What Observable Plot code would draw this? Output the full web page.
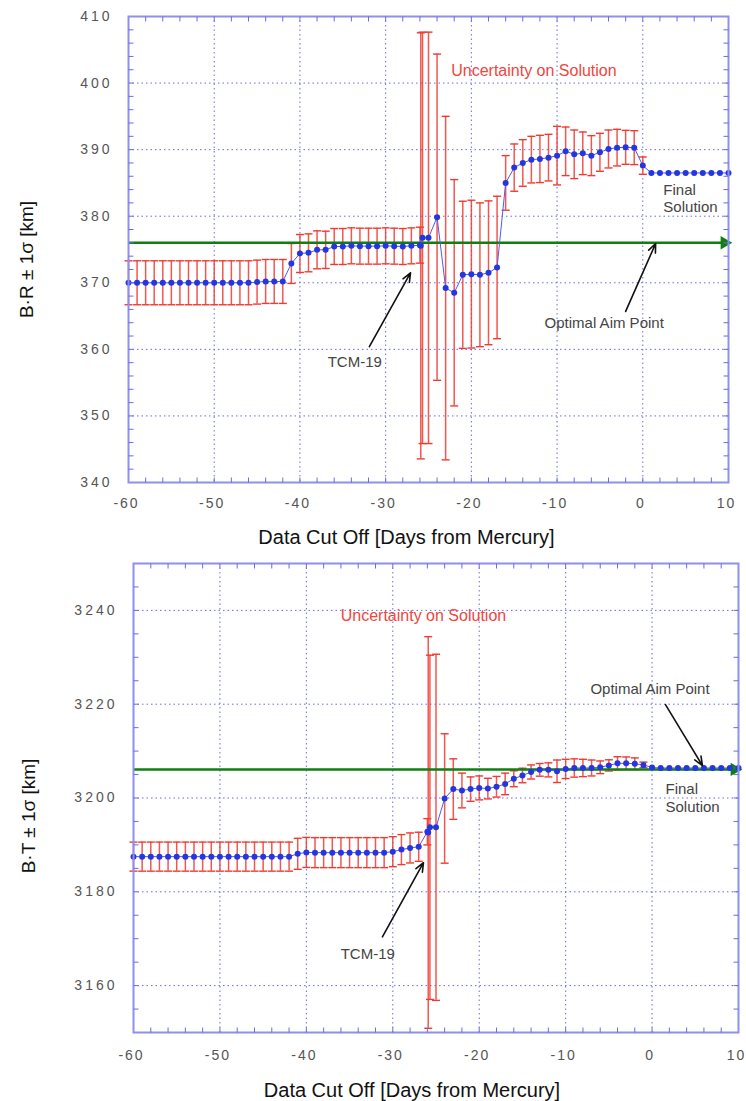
<!DOCTYPE html>
<html>
<head>
<meta charset="utf-8">
<script src="https://cdn.jsdelivr.net/npm/d3@7"></script>
<script src="https://cdn.jsdelivr.net/npm/@observablehq/plot@0.6"></script>
<style>
  body { margin: 0; background: #ffffff; }
  #figure { position: relative; width: 746px; height: 1101px; overflow: hidden; }
  .panel { position: absolute; left: 0; }
  .panel svg { overflow: visible; }
  g[aria-label="x-axis tick label"] text { letter-spacing: 2px; }
  g[aria-label="y-axis tick label"] text { letter-spacing: 3px; }
</style>
</head>
<body>
<div id="figure"></div>
<script>
// Data cut-off epochs (days relative to Mercury encounter); TCM-19 splits day -26 into several solutions
const days = [
  -60, -59, -58, -57, -56, -55, -54, -53, -52, -51, -50, -49, -48, -47, -46, -45, -44, -43, -42,
  -41, -40, -39, -38, -37, -36, -35, -34, -33, -32, -31, -30, -29, -28, -27,
  -26, -25.9, -25.7, -25,
  -24, -23, -22, -21, -20, -19, -18, -17, -16, -15, -14, -13, -12, -11, -10,
  -9, -8, -7, -6, -5, -4, -3, -2, -1, 0,
  1, 2, 3, 4, 5, 6, 7, 8, 9, 10
];

// B·R solution and 1-sigma uncertainty (km)
const brValues = [
  370.0, 370.0, 370.0, 370.0, 370.0, 370.0, 370.0, 370.0, 370.0, 370.0, 370.0, 370.0, 370.0, 370.0, 370.0, 370.1, 370.2, 370.2, 370.2,
  372.9, 374.4, 374.5, 374.95, 374.95, 375.45, 375.45, 375.55, 375.5, 375.5, 375.5, 375.55, 375.5, 375.45, 375.55,
  375.65, 375.55, 376.75, 376.75,
  379.85, 369.2, 368.5, 371.2, 371.3, 371.2, 371.5, 372.3, 385.0, 387.3, 388.0, 388.5, 388.6, 388.8, 389.1,
  389.75, 389.3, 389.45, 389.1, 389.6, 390.1, 390.3, 390.35, 390.3, 387.6,
  386.5, 386.5, 386.5, 386.5, 386.5, 386.5, 386.5, 386.5, 386.5, 386.5
];
const brSigma = [
  3.3, 3.3, 3.3, 3.3, 3.3, 3.3, 3.3, 3.3, 3.3, 3.3, 3.3, 3.3, 3.3, 3.3, 3.3, 3.3, 3.3, 3.3, 3.3,
  3.0, 2.85, 2.85, 2.85, 2.8, 2.7, 2.7, 2.7, 2.7, 2.7, 2.7, 2.7, 2.7, 2.7, 2.7,
  2.7, 32.0, 30.9, 30.9,
  24.5, 25.8, 17.0, 11.05, 11.1, 10.8, 10.8, 10.7, 4.1, 3.55, 3.5, 3.5, 3.55, 3.5, 4.4,
  3.65, 3.65, 3.2, 3.0, 2.85, 2.85, 2.75, 2.55, 2.55, 1.3,
  0, 0, 0, 0, 0, 0, 0, 0, 0, 0
];

// B·T solution and 1-sigma uncertainty (km)
const btValues = [
  3187.5, 3187.5, 3187.5, 3187.5, 3187.5, 3187.5, 3187.5, 3187.5, 3187.5, 3187.5, 3187.5, 3187.5, 3187.5, 3187.5, 3187.5, 3187.5, 3187.5, 3187.5, 3187.5,
  3188.1, 3188.4, 3188.35, 3188.35, 3188.35, 3188.35, 3188.35, 3188.35, 3188.35, 3188.35, 3188.35, 3188.55, 3189.0, 3189.35, 3189.6,
  3192.8, 3192.65, 3193.75, 3193.75,
  3199.9, 3201.9, 3201.6, 3201.9, 3202.15, 3202.0, 3202.4, 3203.0, 3204.1, 3204.8, 3205.55, 3206.0, 3206.0, 3205.7, 3206.2,
  3206.4, 3206.4, 3206.4, 3206.55, 3206.95, 3207.4, 3207.4, 3207.3, 3207.05, 3206.5,
  3206.4, 3206.4, 3206.4, 3206.4, 3206.4, 3206.4, 3206.4, 3206.4, 3206.4, 3206.4
];
const btSigma = [
  3.1, 3.1, 3.1, 3.1, 3.1, 3.1, 3.1, 3.1, 3.1, 3.1, 3.1, 3.1, 3.1, 3.1, 3.1, 3.1, 3.1, 3.1, 3.1,
  3.3, 3.2, 3.2, 3.2, 3.2, 3.2, 3.2, 3.2, 3.2, 3.2, 3.2, 3.2, 3.2, 3.2, 3.1,
  2.8, 41.75, 36.7, 36.9,
  13.8, 6.45, 3.7, 2.6, 2.55, 2.2, 2.2, 2.3, 1.7, 1.55, 1.5, 1.35, 1.5, 2.4, 2.05,
  1.95, 1.85, 1.7, 1.35, 1.2, 1.4, 1.35, 1.25, 0.6, 0,
  0, 0, 0, 0, 0, 0, 0, 0, 0, 0
];

// Optimal aim points (km)
const brAim = 376.0;
const btAim = 3206.1;

// Axis ticks
const xDomain = [-60, 10];
const xTicks = [-60, -50, -40, -30, -20, -10, 0, 10];
const xMinor = [-58, -56, -54, -52, -48, -46, -44, -42, -38, -36, -34, -32, -28, -26, -24, -22, -18, -16, -14, -12, -8, -6, -4, -2, 2, 4, 6, 8];
const brDomain = [340, 410];
const brTicks = [340, 350, 360, 370, 380, 390, 400, 410];
const brMinor = [342, 344, 346, 348, 352, 354, 356, 358, 362, 364, 366, 368, 372, 374, 376, 378, 382, 384, 386, 388, 392, 394, 396, 398, 402, 404, 406, 408];
const btDomain = [3150, 3250];
const btTicks = [3160, 3180, 3200, 3220, 3240];
const btMinor = [3155, 3165, 3170, 3175, 3185, 3190, 3195, 3205, 3210, 3215, 3225, 3230, 3235, 3245];

// Annotations (data coordinates)
const brNotes = [
  {day: -12.7, value: 401.9, text: "Uncertainty on Solution", kind: "red"},
  {day: -4.5, value: 363.9, text: "Optimal Aim Point", kind: "gray"},
  {day: -33.6, value: 358.0, text: "TCM-19", kind: "gray"}
];
const brFinal = [{day: 2.4, value: 382.75, text: "Final\nSolution"}];
const brArrows = [
  {x1: -31.9, y1: 360.4, x2: -27.1, y2: 371.5},
  {x1: -2.0, y1: 365.7, x2: 1.5, y2: 375.9}
];
const btNotes = [
  {day: -26.45, value: 3238.9, text: "Uncertainty on Solution", kind: "red"},
  {day: -0.24, value: 3223.3, text: "Optimal Aim Point", kind: "gray"},
  {day: -32.9, value: 3166.8, text: "TCM-19", kind: "gray"}
];
const btFinal = [{day: 1.55, value: 3200.1, text: "Final\nSolution"}];
const btArrows = [
  {x1: -31.2, y1: 3170.4, x2: -26.45, y2: 3186.2},
  {x1: 1.55, y1: 3219.9, x2: 5.83, y2: 3206.9}
];

// Colours
const RED = "#f03a30";
const BLUE = "#2436e0";
const LINE_BLUE = "#4d5cf0";
const GREEN = "#0f7f12";
const FRAME = "#8f8ff0";
const GRID = "#5a5ae8";
const TICK = "#6a6ae8";
const FONT = "'Liberation Sans', Arial, Helvetica, sans-serif";

// Custom symbols: horizontal error-bar cap and inward frame ticks
const capSymbol = {draw(ctx, size) { const l = Math.sqrt(size / Math.PI); ctx.moveTo(-l, 0); ctx.lineTo(l, 0); }};
const tickUp = {draw(ctx, size) { const l = Math.sqrt(size / Math.PI); ctx.moveTo(0, 0); ctx.lineTo(0, -l); }};
const tickDown = {draw(ctx, size) { const l = Math.sqrt(size / Math.PI); ctx.moveTo(0, 0); ctx.lineTo(0, l); }};
const tickRight = {draw(ctx, size) { const l = Math.sqrt(size / Math.PI); ctx.moveTo(0, 0); ctx.lineTo(l, 0); }};
const tickLeft = {draw(ctx, size) { const l = Math.sqrt(size / Math.PI); ctx.moveTo(0, 0); ctx.lineTo(-l, 0); }};

function panel(cfg) {
  const rows = days.map((d, i) => ({day: d, value: cfg.values[i], sigma: cfg.sigma[i]}));
  const bars = rows.filter(d => d.sigma > 0);
  const innerX = xTicks.slice(1, -1);
  const innerY = cfg.yTicks.filter(v => v > cfg.yDomain[0] && v < cfg.yDomain[1]);
  return Plot.plot({
    width: 746,
    height: cfg.height,
    marginLeft: cfg.marginLeft,
    marginRight: cfg.marginRight,
    marginTop: cfg.marginTop,
    marginBottom: cfg.marginBottom,
    style: {fontFamily: FONT, background: "transparent", overflow: "visible"},
    x: {domain: xDomain},
    y: {domain: cfg.yDomain},
    marks: [
      // dotted grid at the major ticks
      Plot.gridX(innerX, {stroke: GRID, strokeOpacity: 0.9, strokeWidth: 1, strokeDasharray: "1.5,3"}),
      Plot.gridY(innerY, {stroke: GRID, strokeOpacity: 0.9, strokeWidth: 1, strokeDasharray: "1.5,3"}),
      // 1-sigma error bars with caps
      Plot.ruleX(bars, {x: "day", y1: d => d.value - d.sigma, y2: d => d.value + d.sigma, stroke: RED, strokeWidth: 1.5, strokeOpacity: 0.85}),
      Plot.dot(bars, {x: "day", y: d => d.value + d.sigma, symbol: capSymbol, r: 4, stroke: RED, fill: "none", strokeWidth: 1.4}),
      Plot.dot(bars, {x: "day", y: d => d.value - d.sigma, symbol: capSymbol, r: 4, stroke: RED, fill: "none", strokeWidth: 1.4}),
      // optimal aim point line with arrowhead
      Plot.ruleY([cfg.aim], {y: d => d, stroke: GREEN, strokeWidth: 2.5}),
      Plot.dot([cfg.aim], {x: () => xDomain[1], y: d => d, symbol: "triangle", rotate: 90, r: 5, fill: GREEN, dx: -4}),
      // orbit determination solutions
      Plot.line(rows, {x: "day", y: "value", stroke: LINE_BLUE, strokeWidth: 1}),
      Plot.dot(rows, {x: "day", y: "value", r: 3, fill: BLUE}),
      // annotations
      Plot.text(cfg.notes, {x: "day", y: "value", text: "text", fontSize: d => d.kind === "red" ? 16 : 15,
        fill: d => d.kind === "red" ? "#f2453d" : "#444", textAnchor: "middle", lineAnchor: "middle"}),
      Plot.text(cfg.final, {x: "day", y: "value", text: "text", fontSize: 15, fill: "#444", textAnchor: "start", lineAnchor: "middle", lineHeight: 1.15}),
      Plot.arrow(cfg.arrows, {x1: "x1", y1: "y1", x2: "x2", y2: "y2", stroke: "#111", strokeWidth: 1.6, headLength: 9, headAngle: 45}),
      // frame with inward minor ticks
      Plot.frame({stroke: FRAME, strokeWidth: 2}),
      Plot.dot(xMinor.concat(innerX), {x: d => d, frameAnchor: "bottom", symbol: tickUp, r: 5, stroke: TICK, fill: "none", strokeWidth: 1}),
      Plot.dot(xMinor.concat(innerX), {x: d => d, frameAnchor: "top", symbol: tickDown, r: 5, stroke: TICK, fill: "none", strokeWidth: 1}),
      Plot.dot(cfg.yMinor.concat(innerY), {y: d => d, frameAnchor: "left", symbol: tickRight, r: 5, stroke: TICK, fill: "none", strokeWidth: 1}),
      Plot.dot(cfg.yMinor.concat(innerY), {y: d => d, frameAnchor: "right", symbol: tickLeft, r: 5, stroke: TICK, fill: "none", strokeWidth: 1}),
      // tick labels
      Plot.axisX({ticks: xTicks, tickSize: 0, tickPadding: cfg.xPad, dx: -2, tickFormat: d => String(d), fontSize: 14, color: "#555", label: null}),
      Plot.axisY({ticks: cfg.yTicks, tickSize: 0, tickPadding: 16, tickFormat: d => String(d), fontSize: 14, color: "#555", label: null}),
      // axis titles
      Plot.text(["Data Cut Off [Days from Mercury]"], {frameAnchor: "bottom", dy: cfg.xTitleDy, dx: cfg.xTitleDx, text: d => d,
        fontSize: 20, fill: "#111", textAnchor: "middle", lineAnchor: "middle", style: "letter-spacing:0.2px"}),
      Plot.text([cfg.yLabel], {frameAnchor: "left", dx: cfg.yTitleDx, dy: cfg.yTitleDy, rotate: -90, text: d => d,
        fontSize: 19, fill: "#111", textAnchor: "middle", lineAnchor: "middle", style: "letter-spacing:1.5px"})
    ]
  });
}

const figure = document.getElementById("figure");

const upperPanel = document.createElement("div");
upperPanel.className = "panel";
upperPanel.style.top = "0px";
upperPanel.appendChild(panel({
  values: brValues, sigma: brSigma, aim: brAim,
  yDomain: brDomain, yTicks: brTicks, yMinor: brMinor,
  notes: brNotes, final: brFinal, arrows: brArrows,
  yLabel: "B·R ± 1σ [km]",
  height: 550, marginLeft: 128, marginRight: 18, marginTop: 16, marginBottom: 68,
  xPad: 16, xTitleDy: 55, xTitleDx: -22, yTitleDx: -102, yTitleDy: 10
}));
figure.appendChild(upperPanel);

const lowerPanel = document.createElement("div");
lowerPanel.className = "panel";
lowerPanel.style.top = "550px";
lowerPanel.appendChild(panel({
  values: btValues, sigma: btSigma, aim: btAim,
  yDomain: btDomain, yTicks: btTicks, yMinor: btMinor,
  notes: btNotes, final: btFinal, arrows: btArrows,
  yLabel: "B·T ± 1σ [km]",
  height: 551, marginLeft: 133, marginRight: 8, marginTop: 13, marginBottom: 69,
  xPad: 18, xTitleDy: 58, xTitleDx: -24, yTitleDx: -105, yTitleDy: 18
}));
figure.appendChild(lowerPanel);
</script>
</body>
</html>
